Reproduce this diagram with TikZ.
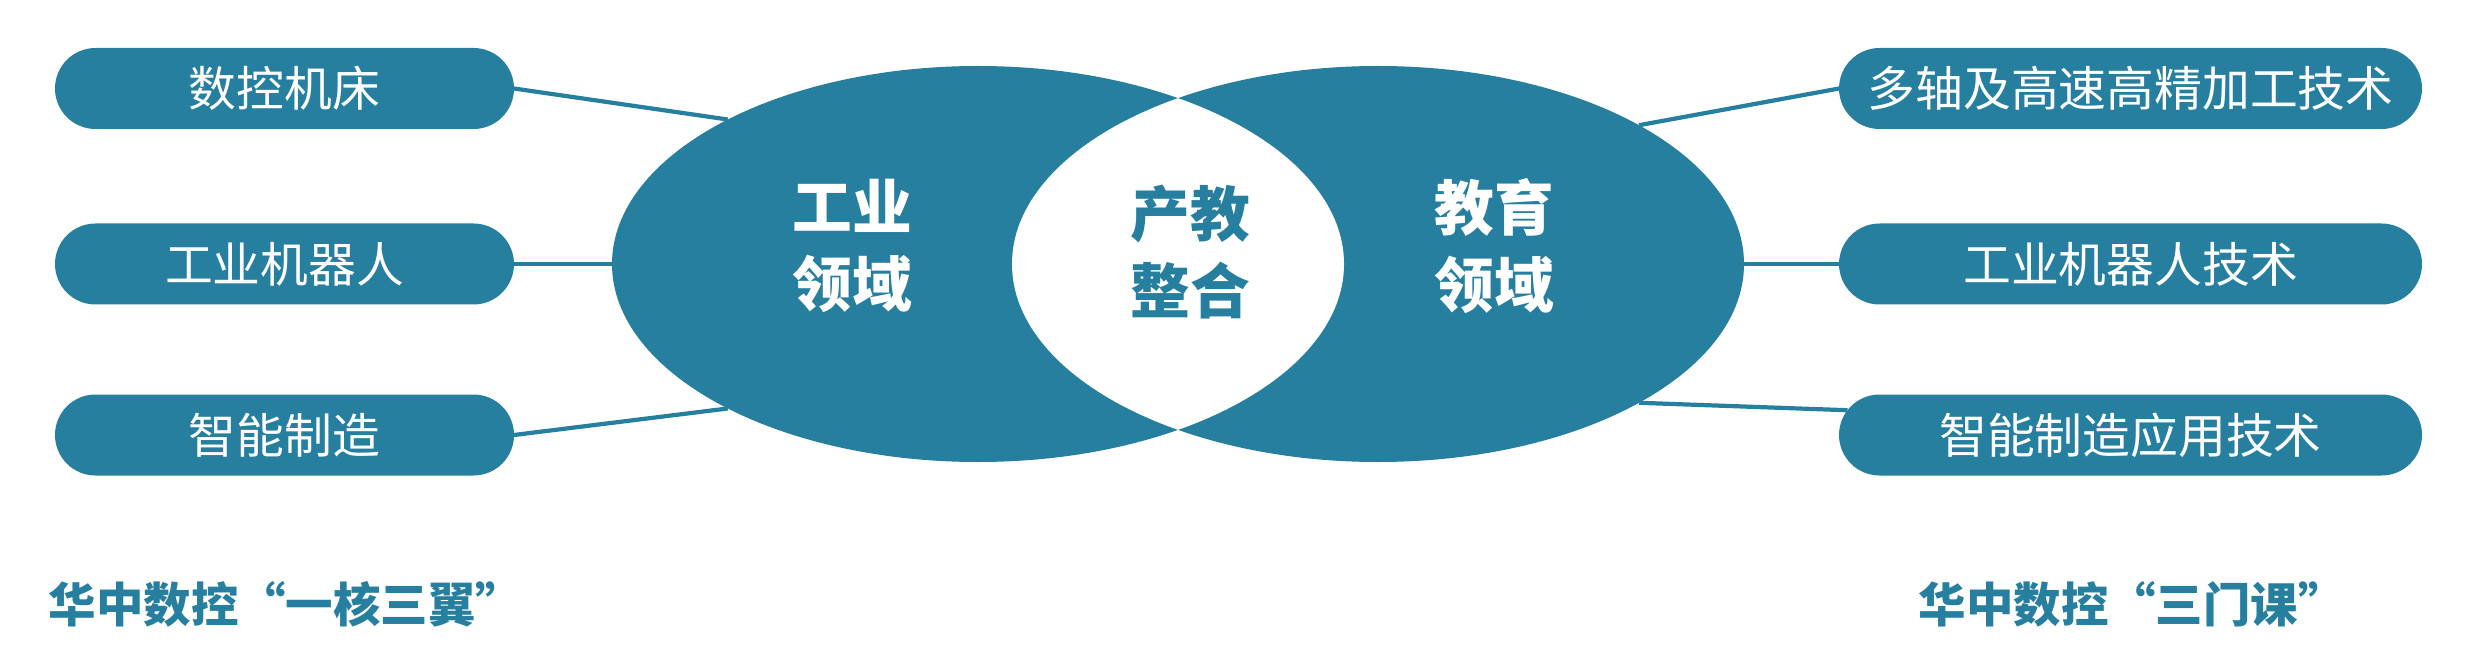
\documentclass[tikz,border=0pt]{standalone}
\usepackage{fontspec}
\newfontfamily\cjk{Noto Sans CJK SC}
\usetikzlibrary{shapes.geometric,shapes.misc}
\definecolor{hzteal}{RGB}{39,127,160}

\begin{document}
\begin{tikzpicture}[
  pill/.style={rounded rectangle, fill=hzteal, text=white, minimum height=0.81cm,
               inner sep=0pt, outer sep=0pt, font=\cjk\fontsize{13.6pt}{16pt}\selectfont},
  field/.style={ellipse, fill=hzteal, minimum width=7.32cm, minimum height=3.96cm,
                inner sep=0pt, outer sep=0pt},
  big/.style={align=center, inner sep=0pt, font=\cjk\bfseries\fontsize{17pt}{22pt}\selectfont},
  title/.style={anchor=west, inner sep=0pt, text=hzteal,
                font=\cjk\bfseries\fontsize{13.5pt}{16pt}\selectfont},
  link/.style={draw=hzteal, line width=1.2pt},
]
\useasboundingbox (0,0) rectangle (24.75,6.55);

% the two fields and their overlap
\node[field] (ind) at (9.78,3.91)  {};
\node[field] (edu) at (13.78,3.91) {};
\begin{scope}
  \clip (ind.center) ellipse [x radius=3.66cm, y radius=1.98cm];
  \fill[white] (edu.center) ellipse [x radius=3.66cm, y radius=1.98cm];
\end{scope}

\node[big, text=white]  (indtxt) at (8.52,4.09)  {工业\\领域};
\node[big, text=hzteal] (mid)    at (11.90,4.03) {产教\\整合};
\node[big, text=white]  (edutxt) at (14.94,4.09) {教育\\领域};

% left side
\node[pill, minimum width=4.59cm] (l1) at (2.845,5.665) {数控机床};
\node[pill, minimum width=4.59cm] (l2) at (2.845,3.91)  {工业机器人};
\node[pill, minimum width=4.59cm] (l3) at (2.845,2.20)  {智能制造};

% right side
\node[pill, minimum width=5.83cm] (r1) at (21.305,5.665) {多轴及高速高精加工技术};
\node[pill, minimum width=5.83cm] (r2) at (21.305,3.91)  {工业机器人技术};
\node[pill, minimum width=5.83cm] (r3) at (21.305,2.20)  {智能制造应用技术};

\draw[link] (l1.east) -- (ind.150);
\draw[link] (l2.east) -- (ind.west);
\draw[link] (l3.east) -- (ind.210);
\draw[link] (edu.28) -- (r1.west);
\draw[link] (edu.east) -- (r2.west);
\draw[link] (edu.332) -- (r3.175);

\node[title] (lt) at (0.48,0.51)  {华中数控“一核三翼”};
\node[title] (rt) at (19.18,0.51) {华中数控“三门课”};

\end{tikzpicture}
\end{document}
